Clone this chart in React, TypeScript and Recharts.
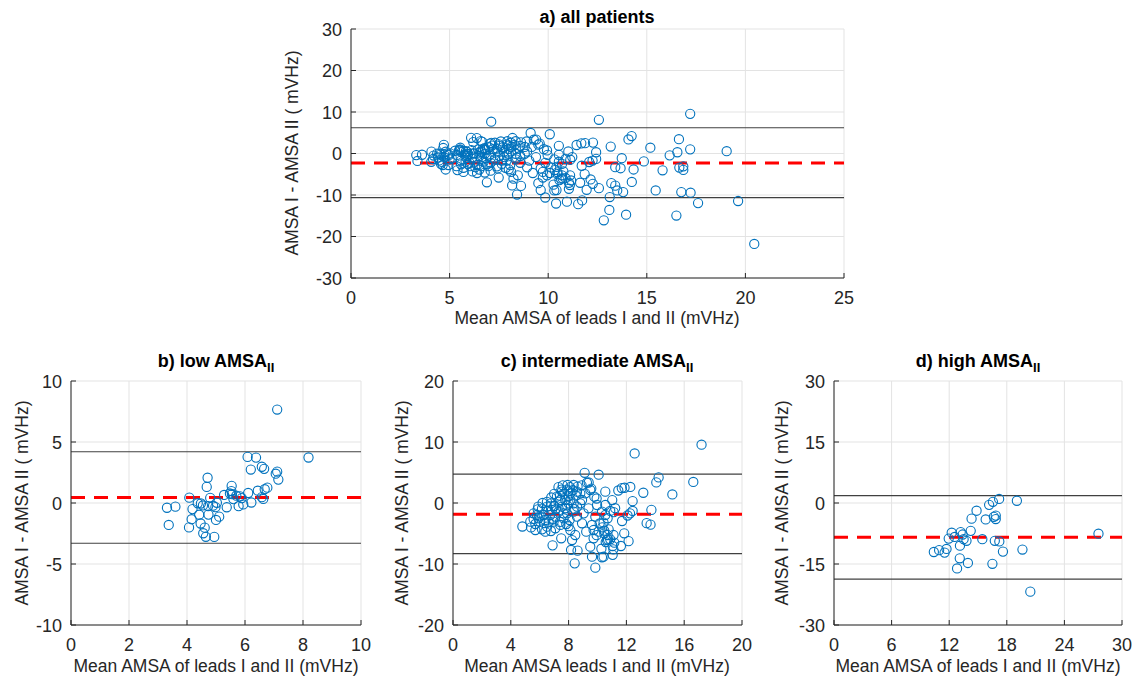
import React from "react";
import {
  ScatterChart,
  Scatter,
  XAxis,
  YAxis,
  CartesianGrid,
  ReferenceLine,
} from "recharts";

// [mean AMSA, difference]
const lowPoints: [number, number][] = [
  [7.11, 7.66], [8.19, 3.73], [6.09, 3.78], [6.38, 3.72], [6.2, 2.74], [6.58, 2.97],
  [6.66, 2.8], [7.11, 2.57], [7.06, 2.4], [7.15, 1.92], [4.71, 2.07], [4.68, 1.32],
  [5.54, 1.4], [6.77, 1.26], [6.68, 1.13], [6.44, 1.01], [6.11, 0.82], [5.53, 0.98],
  [5.48, 0.78], [5.28, 0.66], [4.08, 0.44], [4.8, 0.42], [5.83, 0.54], [5.89, 0.4],
  [6.58, 0.48], [6.63, 0.33], [5.6, 0.32], [6.22, 0.04], [5.94, -0.12], [5.78, -0.26],
  [3.31, -0.39], [3.6, -0.3], [4.37, -0.02], [4.48, -0.04], [4.9, -0.22], [4.98, -0.34],
  [5.03, 0.02], [5.37, -0.35], [4.19, -0.5], [4.73, -0.25], [4.42, -0.96], [4.74, -0.95],
  [5.11, -1.12], [5.0, -1.39], [4.16, -1.33], [4.47, -1.68], [3.37, -1.8], [4.07, -2.0],
  [4.61, -2.02], [4.56, -2.48], [4.65, -2.77], [4.94, -2.78], [5.55, 0.72], [5.7, 0.6],
  [4.55, -0.2],
];

const intermediatePoints: [number, number][] = [
  [17.2, 9.56], [12.57, 8.12], [14.23, 4.2], [14.07, 3.38], [16.63, 3.45], [15.18, 1.4],
  [13.17, 1.68], [12.27, 2.63], [11.87, 2.5], [11.68, 2.45], [11.44, 2.05], [10.54, 1.86],
  [12.43, 0.3], [13.73, -1.13], [13.4, -3.3], [13.67, -3.55], [12.43, -1.3], [12.25, -1.7],
  [12.08, -2.05], [11.7, -2.95], [11.12, -1.5], [10.88, -1.3], [11.22, -0.85], [11.02, 0.48],
  [10.31, -1.42], [10.54, -1.97], [10.7, -2.5], [10.42, -3.22], [10.33, -3.99], [10.47, -4.54],
  [10.7, -5.25], [11.11, -5.25], [10.88, -5.95], [11.16, -6.5], [11.05, -7.05], [11.85, -4.97],
  [12.15, -6.25], [11.62, -7.05], [10.65, -6.07], [11.05, -8.5], [10.31, -8.9], [10.77, -4.32],
  [11.1, -7.6], [10.27, -7.5], [9.94, -5.27], [10.15, -3.36], [9.94, 0.74],
  [4.8, -3.85], [9.11, 4.95], [10.08, 4.64], [5.58, -2.62], [5.86, -1.04], [6.16, -0.93],
  [6.51, -0.6], [6.78, -0.06], [7.01, -0.49], [7.43, 0.49], [7.54, 1.86], [7.93, 2.95],
  [8.35, 2.95], [8.62, 2.68], [8.12, 1.58], [8.58, 1.86], [8.81, 1.58], [9.27, 3.33],
  [9.5, 2.13], [9.16, 1.58], [9.78, 1.04], [10.54, -0.33], [9.97, -0.33], [9.38, -0.87],
  [9.85, -2.24], [9.62, -3.6], [10.08, -4.7], [10.47, -4.97], [9.73, -4.43], [9.73, -5.79],
  [9.22, -4.7], [8.93, -3.33], [8.58, -2.24], [8.35, -1.42], [8.0, -0.06], [7.77, -0.87],
  [7.65, -1.7], [7.31, -1.42], [7.08, -2.24], [6.73, -1.97], [6.39, -2.79], [6.04, -3.06],
  [5.7, -3.44], [6.16, -4.32], [6.51, -3.88], [6.78, -4.59], [7.08, -4.15], [7.43, -3.6],
  [7.84, -3.44], [8.12, -4.43], [8.46, -5.25], [7.49, -5.79], [6.89, -6.94], [8.17, -7.7],
  [8.42, -9.89], [8.62, -7.81], [8.24, -6.07], [9.5, -7.16], [9.62, -8.8], [9.85, -10.6],
  [10.42, -8.8], [7.19, 1.04], [7.77, 0.49], [8.12, 0.49], [8.35, -0.06], [7.54, -0.6],
  [7.89, -1.7], [8.81, -0.06], [9.04, -1.7], [8.93, 0.49], [8.58, -0.6], [6.85, -1.15],
  [6.27, -1.97], [5.81, -1.97], [5.58, -1.7], [5.92, -2.5], [6.62, -3.06], [6.96, -3.06],
  [6.39, -4.7], [5.35, -3.06], [5.7, -4.43], [7.65, -2.5], [8.07, -2.79], [9.39, 3.36],
  [9.57, 2.37], [8.3, 2.1], [8.0, 1.1], [7.3, 0.2], [7.9, 2.2], [8.9, 2.9], [8.5, 1.2],
  [10.57, -6.41], [10.73, -5.98],
  [7.3, 2.6], [7.6, 2.9], [8.1, 2.6], [7.5, 2.2], [7.7, 1.5], [8.0, 1.9], [7.4, 1.2],
  [7.0, 1.5], [6.8, 0.9], [6.5, 0.2], [6.2, 0.0], [5.9, -0.6], [6.6, -1.3], [7.1, -1.0],
  [7.9, -0.4], [8.4, -1.0], [6.3, -3.3], [6.9, -2.6], [7.4, -3.1], [8.0, -3.8], [5.4, -4.0],
  [6.0, -2.2],
];

const highPoints: [number, number][] = [
  [27.55, -7.55], [19.05, 0.55], [17.2, 1.0], [16.55, 0.3], [16.16, -0.45], [16.85, -3.1],
  [16.85, -3.95], [16.65, -3.4], [14.85, -1.9], [14.33, -3.85], [15.8, -4.05], [14.24, -6.85],
  [13.2, -7.15], [12.26, -7.3], [13.4, -7.75], [12.57, -8.35], [11.95, -8.75], [13.8, -9.3],
  [13.5, -8.9], [15.45, -8.9], [16.75, -9.3], [17.22, -9.45], [13.12, -10.5], [11.72, -11.3],
  [19.63, -11.45], [17.6, -11.95], [10.95, -11.6], [10.4, -12.05], [11.52, -12.2], [13.1, -13.6],
  [13.95, -14.75], [16.5, -14.95], [12.82, -16.1], [20.45, -21.8],
];

// bias and limits of agreement per panel
const allLines = { mean: -2.3, upper: 6.2, lower: -10.65 };
const lowLines = { mean: 0.45, upper: 4.2, lower: -3.3 };
const intermediateLines = { mean: -1.85, upper: 4.75, lower: -8.3 };
const highLines = { mean: -8.4, upper: 1.8, lower: -18.7 };

const xTicksAll = [0, 5, 10, 15, 20, 25];
const yTicksAll = [-30, -20, -10, 0, 10, 20, 30];
const xTicksLow = [0, 2, 4, 6, 8, 10];
const yTicksLow = [-10, -5, 0, 5, 10];
const xTicksInter = [0, 4, 8, 12, 16, 20];
const yTicksInter = [-20, -10, 0, 10, 20];
const xTicksHigh = [0, 6, 12, 18, 24, 30];
const yTicksHigh = [-30, -15, 0, 15, 30];

const toRows = (pts: [number, number][]) => pts.map(([x, y]) => ({ x, y }));

const FONT = '"Liberation Sans", Arial, Helvetica, sans-serif';
const AXIS = "#262626";
const BLUE = "#0072BD";
const M_TOP = 30;
const M_LEFT = 60;

const Dot = (p: any) => (
  <circle cx={p.cx} cy={p.cy} r={4.6} fill="none" stroke={BLUE} strokeWidth={1.1} />
);

const makeXTick = (bottom: number) => (props: any) => {
  const { x, payload } = props;
  return (
    <g>
      <line x1={x} x2={x} y1={bottom} y2={bottom - 5} stroke={AXIS} />
      <text x={x} y={bottom + 26} textAnchor="middle" fontSize={18} fill={AXIS} fontFamily={FONT}>
        {payload.value}
      </text>
    </g>
  );
};

const makeYTick = () => (props: any) => {
  const { y, payload } = props;
  return (
    <g>
      <line x1={M_LEFT} x2={M_LEFT + 5} y1={y} y2={y} stroke={AXIS} />
      <text x={M_LEFT - 9} y={y + 6.5} textAnchor="end" fontSize={18} fill={AXIS} fontFamily={FONT}>
        {payload.value}
      </text>
    </g>
  );
};

interface PanelProps {
  left: number;
  top: number;
  w: number;
  h: number;
  data: { x: number; y: number }[];
  xTicks: number[];
  yTicks: number[];
  lines: { mean: number; upper: number; lower: number };
}

const Panel = ({ left, top, w, h, data, xTicks, yTicks, lines }: PanelProps) => {
  const xd = [xTicks[0], xTicks[xTicks.length - 1]];
  const yd = [yTicks[0], yTicks[yTicks.length - 1]];
  return (
    <div style={{ position: "absolute", left: left - M_LEFT, top: top - M_TOP }}>
      <ScatterChart
        width={w + M_LEFT + 20}
        height={h + M_TOP + 70}
        margin={{ top: M_TOP, right: 20, left: 0, bottom: 0 }}
      >
        <CartesianGrid stroke="#e3e3e3" />
        <XAxis
          type="number"
          dataKey="x"
          domain={xd}
          ticks={xTicks}
          allowDataOverflow
          height={70}
          axisLine={{ stroke: AXIS }}
          tickLine={false}
          tick={makeXTick(M_TOP + h)}
        />
        <YAxis
          type="number"
          dataKey="y"
          domain={yd}
          ticks={yTicks}
          allowDataOverflow
          width={M_LEFT}
          axisLine={{ stroke: AXIS }}
          tickLine={false}
          tick={makeYTick()}
        />
        <Scatter data={data} shape={Dot} isAnimationActive={false} />
        <ReferenceLine y={lines.upper} stroke="#404040" strokeWidth={1.2} />
        <ReferenceLine y={lines.lower} stroke="#404040" strokeWidth={1.2} />
        <ReferenceLine y={lines.mean} stroke="#ff0000" strokeWidth={3} strokeDasharray="14 9" />
      </ScatterChart>
    </div>
  );
};

const Title = ({ cx, cy, text, sub }: { cx: number; cy: number; text: string; sub?: string }) => (
  <div
    style={{
      position: "absolute",
      left: cx,
      top: cy,
      transform: "translate(-50%, -50%)",
      fontFamily: FONT,
      fontWeight: "bold",
      fontSize: 18,
      whiteSpace: "nowrap",
      color: "#000",
    }}
  >
    {text}
    {sub && <sub style={{ fontSize: 13, verticalAlign: "-5px" }}>{sub}</sub>}
  </div>
);

const XLabel = ({ cx, cy, text }: { cx: number; cy: number; text: string }) => (
  <div
    style={{
      position: "absolute",
      left: cx,
      top: cy,
      transform: "translate(-50%, -50%)",
      fontFamily: FONT,
      fontSize: 17.5,
      whiteSpace: "nowrap",
      color: AXIS,
    }}
  >
    {text}
  </div>
);

const YLabel = ({ cx, cy, text }: { cx: number; cy: number; text: string }) => (
  <div
    style={{
      position: "absolute",
      left: cx,
      top: cy,
      transform: "translate(-50%, -50%) rotate(-90deg)",
      fontFamily: FONT,
      fontSize: 17.5,
      whiteSpace: "nowrap",
      color: AXIS,
    }}
  >
    {text}
  </div>
);

export default function App() {
  const low = toRows(lowPoints);
  const inter = toRows(intermediatePoints);
  const high = toRows(highPoints);
  const all = [...low, ...inter, ...high].filter((d) => d.x <= 25);
  const yLab = "AMSA I - AMSA II ( mVHz)";
  const xLab = "Mean AMSA of leads I and II (mVHz)";

  return (
    <div style={{ position: "absolute", left: 0, top: 0, width: 1137, height: 682, background: "#fff" }}>
      <Panel left={351} top={29} w={493} h={249} data={all} xTicks={xTicksAll} yTicks={yTicksAll} lines={allLines} />
      <Panel left={71} top={381} w={290} h={244} data={low} xTicks={xTicksLow} yTicks={yTicksLow} lines={lowLines} />
      <Panel left={453} top={381} w={289} h={244} data={inter} xTicks={xTicksInter} yTicks={yTicksInter} lines={intermediateLines} />
      <Panel left={834} top={381} w={288} h={244} data={high} xTicks={xTicksHigh} yTicks={yTicksHigh} lines={highLines} />

      <Title cx={597} cy={17} text="a) all patients" />
      <Title cx={216} cy={363} text="b) low AMSA" sub="II" />
      <Title cx={597} cy={363} text="c) intermediate AMSA" sub="II" />
      <Title cx={978} cy={363} text="d) high AMSA" sub="II" />

      <YLabel cx={292} cy={153} text={yLab} />
      <YLabel cx={22} cy={503} text={yLab} />
      <YLabel cx={402} cy={503} text={yLab} />
      <YLabel cx={782} cy={503} text={yLab} />

      <XLabel cx={597} cy={318} text={xLab} />
      <XLabel cx={216} cy={666} text={xLab} />
      <XLabel cx={597} cy={666} text="Mean AMSA leads I and II (mVHz)" />
      <XLabel cx={978} cy={666} text={xLab} />
    </div>
  );
}
